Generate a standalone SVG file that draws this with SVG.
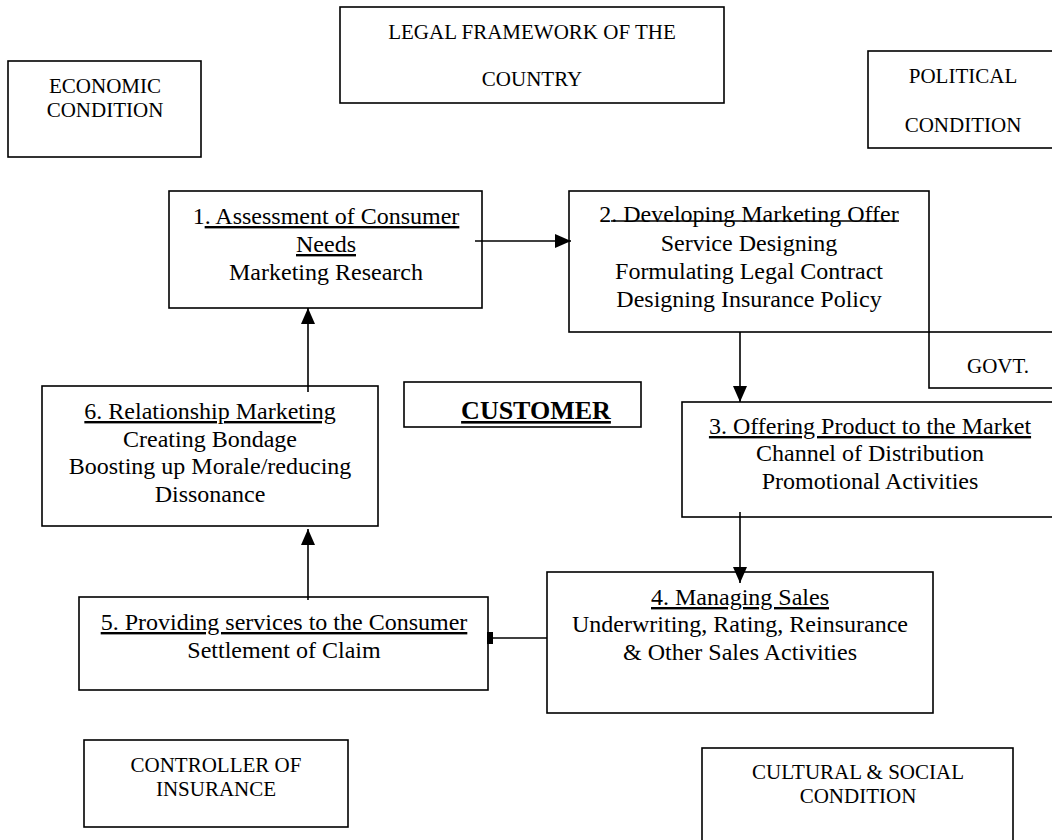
<svg xmlns="http://www.w3.org/2000/svg" width="1052" height="840" viewBox="0 0 1052 840">
<style>
.box{fill:#fff;stroke:#000;stroke-width:1.6}
.t{font-family:"Liberation Serif","Times New Roman",serif;font-size:24px;fill:#000;text-anchor:middle}
.c{font-family:"Liberation Serif","Times New Roman",serif;font-size:21px;fill:#000;text-anchor:middle}
.u{text-decoration:underline}
.conn{stroke:#000;stroke-width:1.6;fill:none}
</style>
<defs>
<marker id="ah" markerUnits="userSpaceOnUse" markerWidth="16" markerHeight="14" refX="16" refY="7" orient="auto">
<path d="M0,0 L16,7 L0,14 z" fill="#000"/>
</marker>
<marker id="ahs" markerUnits="userSpaceOnUse" markerWidth="6" markerHeight="14" refX="6" refY="7" orient="auto">
<path d="M0,1 L6,1 L6,13 L0,13 z" fill="#000"/>
</marker>
</defs>
<rect width="1052" height="840" fill="#fff"/>

<g id="economic">
<rect class="box" x="8" y="61" width="193" height="96"/>
<text class="c" x="105" y="93">ECONOMIC</text>
<text class="c" x="105" y="117">CONDITION</text>
</g>
<g id="legal">
<rect class="box" x="340" y="7" width="384" height="96"/>
<text class="c" x="532" y="39">LEGAL FRAMEWORK OF THE</text>
<text class="c" x="532" y="86">COUNTRY</text>
</g>
<g id="political">
<rect class="box" x="868" y="51" width="200" height="97"/>
<text class="c" x="963" y="83">POLITICAL</text>
<text class="c" x="963" y="132">CONDITION</text>
</g>

<g id="govt">
<rect class="box" x="929" y="332" width="140" height="56"/>
<text class="c" x="998" y="373">GOVT.</text>
</g>

<g id="step1">
<rect class="box" x="169" y="191" width="313" height="117"/>
<text class="t" x="326" y="224">1<tspan class="u">. Assessment of Consumer</tspan></text>
<text class="t u" x="326" y="252">Needs</text>
<text class="t" x="326" y="280">Marketing Research</text>
</g>

<g id="step2">
<rect class="box" x="569" y="191" width="360" height="141"/>
<text class="t" x="749" y="222">2. Developing Marketing Offer</text>
<line x1="611" y1="221" x2="899" y2="221" stroke="#000" stroke-width="1.6"/>
<text class="t" x="749" y="251">Service Designing</text>
<text class="t" x="749" y="279">Formulating Legal Contract</text>
<text class="t" x="749" y="307">Designing Insurance Policy</text>
</g>

<g id="customer">
<rect class="box" x="404" y="382" width="237" height="45"/>
<text x="536" y="419" font-family="'Liberation Serif','Times New Roman',serif" font-size="26" font-weight="bold" text-anchor="middle" text-decoration="underline" fill="#000">CUSTOMER</text>
</g>

<g id="step3">
<rect class="box" x="682" y="402" width="380" height="115"/>
<text class="t u" x="870" y="434">3. Offering Product to the Market</text>
<text class="t" x="870" y="461">Channel of Distribution</text>
<text class="t" x="870" y="489">Promotional Activities</text>
</g>

<g id="step6">
<rect class="box" x="42" y="386" width="336" height="140"/>
<text class="t u" x="210" y="419">6. Relationship Marketing</text>
<text class="t" x="210" y="447">Creating Bondage</text>
<text class="t" x="210" y="474">Boosting up Morale/reducing</text>
<text class="t" x="210" y="502">Dissonance</text>
</g>

<g id="step4">
<rect class="box" x="547" y="572" width="386" height="141"/>
<text class="t u" x="740" y="605">4. Managing Sales</text>
<text class="t" x="740" y="632">Underwriting, Rating, Reinsurance</text>
<text class="t" x="740" y="660">&amp; Other Sales Activities</text>
</g>

<g id="step5">
<rect class="box" x="79" y="597" width="409" height="93"/>
<text class="t u" x="284" y="630">5. Providing services to the Consumer</text>
<text class="t" x="284" y="658">Settlement of Claim</text>
</g>

<g id="controller">
<rect class="box" x="84" y="740" width="264" height="87"/>
<text class="c" x="216" y="772">CONTROLLER OF</text>
<text class="c" x="216" y="796">INSURANCE</text>
</g>

<g id="cultural">
<rect class="box" x="702" y="748" width="311" height="100"/>
<text class="c" x="858" y="779">CULTURAL &amp; SOCIAL</text>
<text class="c" x="858" y="803">CONDITION</text>
</g>

<g id="connectors">
<line class="conn" x1="475" y1="241" x2="571" y2="241" marker-end="url(#ah)"/>
<line class="conn" x1="740" y1="332" x2="740" y2="402" marker-end="url(#ah)"/>
<line class="conn" x1="740" y1="512" x2="740" y2="583" marker-end="url(#ah)"/>
<line class="conn" x1="547" y1="638" x2="487" y2="638" marker-end="url(#ahs)"/>
<line class="conn" x1="308" y1="600" x2="308" y2="529" marker-end="url(#ah)"/>
<line class="conn" x1="308" y1="392" x2="308" y2="308" marker-end="url(#ah)"/>
</g>
</svg>
